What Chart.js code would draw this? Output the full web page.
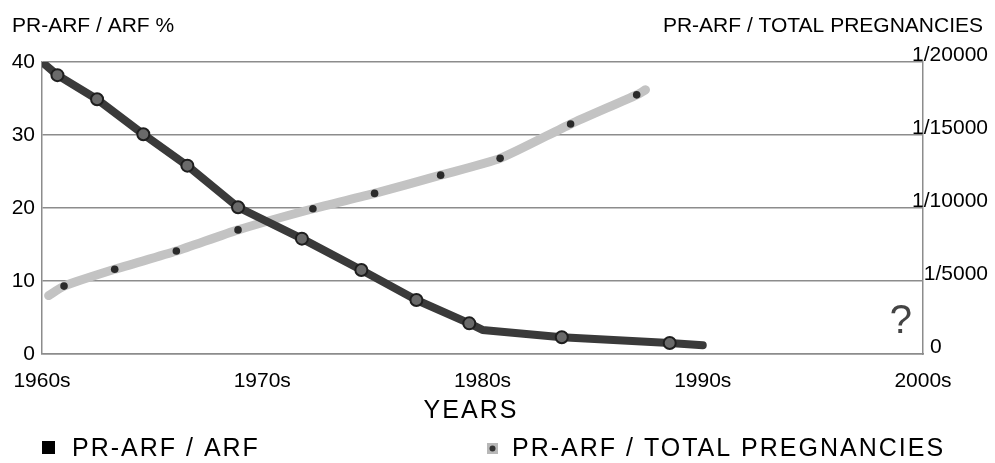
<!DOCTYPE html>
<html>
<head>
<meta charset="utf-8">
<script src="https://cdn.jsdelivr.net/npm/chart.js@4.4.1/dist/chart.umd.min.js"></script>
<style>
  body { margin: 0; background: #fff; }
  #wrap { width: 995px; height: 463px; }
</style>
</head>
<body>
<div id="wrap"><canvas id="prChart" width="995" height="463"></canvas></div>
<script>
// PR-ARF / ARF (%), left axis
const arfYears  = [1960, 1960.7, 1962.5, 1964.6, 1966.6, 1968.9, 1971.8, 1974.5, 1977.0, 1979.4, 1980.0, 1983.6, 1988.5, 1990];
const arfValues = [40, 38.2, 34.9, 30.1, 25.8, 20.1, 15.8, 11.5, 7.4, 4.2, 3.3, 2.3, 1.5, 1.2];
const arfMarked = [false, true, true, true, true, true, true, true, true, true, false, true, true, false];

// PR-ARF / total pregnancies (1/N), right axis
const pregYears  = [1960.3, 1961.0, 1963.3, 1966.1, 1968.9, 1972.3, 1975.1, 1978.1, 1980.8, 1984.0, 1987.0, 1987.4];
const pregValues = [4000, 4650, 5800, 7050, 8500, 9950, 11000, 12250, 13400, 15750, 17750, 18100];
const pregMarked = [false, true, true, true, true, true, true, true, true, true, true, false];

const xTickLabels = ["1960s", "1970s", "1980s", "1990s", "2000s"];
const rightTickLabels = ["0", "1/5000", "1/10000", "1/15000", "1/20000"];
const seriesLabels = ["PR-ARF / ARF", "PR-ARF / TOTAL PREGNANCIES"];

const FONT = '"Liberation Sans", Arial, sans-serif';
const GRID = "#8c8c8c";

const toPoints = (xs, ys) => xs.map((x, i) => ({ x: x, y: ys[i] }));

const extraText = {
  id: "extraText",
  afterDraw(chart) {
    const ctx = chart.ctx;
    const { x, y, y1 } = chart.scales;
    ctx.save();
    ctx.fillStyle = "#000";
    ctx.textBaseline = "middle";

    // axis headings
    ctx.font = "21px " + FONT;
    ctx.textAlign = "left";
    ctx.fillText("PR-ARF / ARF %", 12, 26);
    ctx.textAlign = "right";
    ctx.fillText("PR-ARF / TOTAL PREGNANCIES", 983, 26);

    // right axis labels sit a little above their grid line and overlap the axis,
    // so they are drawn here (the scale clips its own labels to its box)
    y1.ticks.forEach((t, i) => {
      const ty = y1.getPixelForValue(t.value) - 7;
      if (t.value === 0) {
        ctx.textAlign = "left";
        ctx.fillText(rightTickLabels[i], y1.left + 7, ty);
      } else {
        ctx.textAlign = "right";
        ctx.fillText(rightTickLabels[i], y1.right, ty);
      }
    });

    // x axis title
    ctx.font = "25px " + FONT;
    ctx.letterSpacing = "2px";
    ctx.textAlign = "center";
    ctx.fillText("YEARS", 471, 411);

    // the question mark near 2000
    ctx.font = "40px " + FONT;
    ctx.letterSpacing = "0px";
    ctx.fillStyle = "#444";
    ctx.fillText("?", x.getPixelForValue(1999), y.getPixelForValue(4.4));

    // legend
    ctx.fillStyle = "#000";
    ctx.fillRect(42, 441, 13, 13);
    ctx.fillStyle = "#b8b8b8";
    ctx.fillRect(487, 443, 11, 11);
    ctx.fillStyle = "#333";
    ctx.beginPath();
    ctx.arc(492.5, 448.5, 3, 0, Math.PI * 2);
    ctx.fill();

    ctx.font = "25px " + FONT;
    ctx.letterSpacing = "2px";
    ctx.textAlign = "left";
    ctx.fillStyle = "#000";
    ctx.fillText(seriesLabels[0], 72, 449);
    ctx.fillText(seriesLabels[1], 512, 449);
    ctx.restore();
  }
};

new Chart(document.getElementById("prChart").getContext("2d"), {
  type: "line",
  data: {
    datasets: [
      {
        label: seriesLabels[0],
        data: toPoints(arfYears, arfValues),
        yAxisID: "y",
        borderColor: "#3a3a3a",
        borderWidth: 8,
        borderCapStyle: "round",
        borderJoinStyle: "round",
        tension: 0,
        pointRadius: ctx => (arfMarked[ctx.dataIndex] ? 6 : 0),
        pointBorderWidth: 2,
        pointBorderColor: "#1e1e1e",
        pointBackgroundColor: "#6a6a6a",
        order: 1
      },
      {
        label: seriesLabels[1],
        data: toPoints(pregYears, pregValues),
        yAxisID: "y1",
        borderColor: "#c3c3c3",
        borderWidth: 9,
        borderCapStyle: "round",
        borderJoinStyle: "round",
        tension: 0.2,
        pointRadius: ctx => (pregMarked[ctx.dataIndex] ? 3.8 : 0),
        pointBorderWidth: 0,
        pointBackgroundColor: "#2a2a2a",
        order: 2
      }
    ]
  },
  options: {
    responsive: false,
    animation: false,
    events: [],
    layout: { padding: { top: 62, right: 7, left: 0, bottom: 0 } },
    plugins: { legend: { display: false }, tooltip: { enabled: false } },
    scales: {
      x: {
        type: "linear",
        min: 1960,
        max: 2000,
        afterFit: s => { s.height = 109; },
        afterBuildTicks: s => { s.ticks = xTickLabels.map((_, i) => ({ value: 1960 + i * 10 })); },
        grid: { display: false },
        border: { display: true, color: GRID, width: 1.5 },
        ticks: {
          maxRotation: 0,
          autoSkip: false,
          padding: 7,
          color: "#000",
          font: { family: FONT, size: 21 },
          callback: (v, i) => xTickLabels[i]
        }
      },
      y: {
        position: "left",
        min: 0,
        max: 40,
        afterFit: s => { s.width = 42; },
        grid: { color: GRID, lineWidth: 1.5, drawTicks: false },
        border: { display: true, color: GRID, width: 1.5 },
        ticks: {
          stepSize: 10,
          padding: 7,
          color: "#000",
          font: { family: FONT, size: 21 }
        }
      },
      y1: {
        position: "right",
        min: 0,
        max: 20000,
        afterFit: s => { s.width = 65; },
        grid: { drawOnChartArea: false, drawTicks: false },
        border: { display: true, color: GRID, width: 1.5 },
        ticks: { stepSize: 5000, display: false }
      }
    }
  },
  plugins: [extraText]
});
</script>
</body>
</html>
